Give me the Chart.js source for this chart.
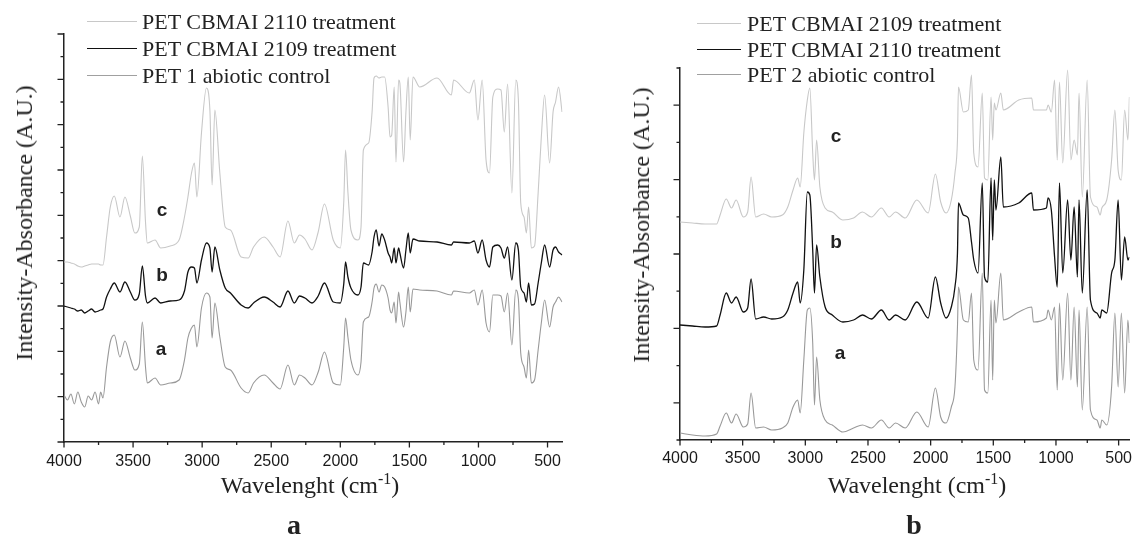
<!DOCTYPE html>
<html>
<head>
<meta charset="utf-8">
<script src="https://cdn.jsdelivr.net/npm/chart.js"></script>
<style>
body { margin: 0; background: #fff; width: 1141px; height: 537px; position: relative; overflow: hidden; color: #222; font-family: "Liberation Serif", "Times New Roman", serif; }
canvas { position: absolute; top: 0; }
.txt { position: absolute; white-space: nowrap; line-height: 1; }
.leg { position: absolute; height: 0; }
.ytitle { font-size: 24px; transform: translate(-50%, -50%) rotate(-90deg); }
.xtitle { font-size: 24px; transform: translateX(-50%); }
.sup { font-size: 16px; position: relative; top: -9px; }
.panel { font-size: 28px; font-weight: bold; transform: translateX(-50%); }
.curve { font-family: "Liberation Sans", Arial, sans-serif; font-size: 19px; font-weight: bold; transform: translate(-50%, -50%); }
.legtxt { font-size: 22px; }
</style>
</head>
<body>
<canvas id="chartA" width="571" height="537" style="left:0"></canvas>
<canvas id="chartB" width="570" height="537" style="left:571px"></canvas>

<!-- panel a texts -->
<div class="leg" style="left:87px;top:21px;width:50px;border-top:1.2px solid #c8c8c8"></div>
<div class="leg" style="left:87px;top:48px;width:50px;border-top:1.5px solid #111"></div>
<div class="leg" style="left:87px;top:75px;width:50px;border-top:1.2px solid #a0a0a0"></div>
<div class="txt legtxt" style="left:142px;top:11px">PET CBMAI 2110 treatment</div>
<div class="txt legtxt" style="left:142px;top:38px">PET CBMAI 2109 treatment</div>
<div class="txt legtxt" style="left:142px;top:65px">PET 1 abiotic control</div>
<div class="txt ytitle" style="left:24px;top:223px">Intensity-Absorbance (A.U.)</div>
<div class="txt xtitle" style="left:310px;top:473px">Wavelenght (cm<span class="sup">-1</span>)</div>
<div class="txt panel" style="left:294px;top:511px">a</div>
<div class="txt curve" style="left:162px;top:209px">c</div>
<div class="txt curve" style="left:162px;top:274px">b</div>
<div class="txt curve" style="left:161px;top:348px">a</div>

<!-- panel b texts -->
<div class="leg" style="left:697px;top:23px;width:44px;border-top:1.2px solid #c8c8c8"></div>
<div class="leg" style="left:697px;top:49px;width:44px;border-top:1.5px solid #111"></div>
<div class="leg" style="left:697px;top:74px;width:44px;border-top:1.2px solid #a0a0a0"></div>
<div class="txt legtxt" style="left:747px;top:13px">PET CBMAI 2109 treatment</div>
<div class="txt legtxt" style="left:747px;top:39px">PET CBMAI 2110 treatment</div>
<div class="txt legtxt" style="left:747px;top:64px">PET 2 abiotic control</div>
<div class="txt ytitle" style="left:641px;top:225px">Intensity-Absorbance (A.U.)</div>
<div class="txt xtitle" style="left:917px;top:473px">Wavelenght (cm<span class="sup">-1</span>)</div>
<div class="txt panel" style="left:914px;top:511px">b</div>
<div class="txt curve" style="left:836px;top:135px">c</div>
<div class="txt curve" style="left:836px;top:241px">b</div>
<div class="txt curve" style="left:840px;top:352px">a</div>

<script>
// x ticks (cm-1)
var xMajor = [4000, 3500, 3000, 2500, 2000, 1500, 1000, 500];
var xMinor = [3750, 3250, 2750, 2250, 1750, 1250, 750];

// panel a: wavenumbers and the three spectra (A.U.)
var waveA = [4000,3975,3950,3925,3900, 3875,3850,3825,3800,3775, 3750,3735,3718,
  3692,3665,3636, 3595,3559,3520,3487,3455,
  3433,3410,3397,3341,3300, 3231,3167,3128,3103,3077, 3056,3038,3005,2969,2944,
  2928,2908,2872,2833,2795, 2718,2667,2628,2551,2487, 2436,2379,2333,2295,2256,
  2205,2160,2115,2051,2000, 1975,1962,1945,1923,1872, 1850,1833,1795,1770,1756,
  1740,1720,1700,1679,1654, 1640,1628,1610,1597,1578, 1569,1542,1525,1508,1494,
  1474,1425,1300,1196,1180, 1066,1030,1004,973,945, 920,896,861,837,813,
  789,758,730,711,694, 670,653,637,617,594, 568,545,521,485,460, 442,420,395];
var t2110A = [180,180,179,178,176, 175,176,177,178,178, 178,177,177,
  205,235,246, 225,245,226,209,215,
  286,220,199,202,194, 196,202,225,245,269, 279,245,309,354,332,
  257,332,269,215,212, 185,184,195,205,195, 185,221,199,207,203,
  192,210,238,202,194, 240,292,250,212,202, 215,292,299,330,364,
  366,364,365,365,335, 305,307,355,280,362, 359,280,330,365,302,
  365,355,364,347,362, 349,362,322,362,282, 269,345,353,352,310,
  358,249,362,342,239, 225,209,235,194,196, 249,305,347,279,330, 340,355,330];
var t2109A = [136,135,134,133,131, 132,129,131,133,130, 131,132,133,
  145,153,159, 150,160,150,142,148,
  176,146,139,144,139, 141,142,151,170,175, 174,159,182,199,194,
  170,195,172,154,149, 137,134,139,145,140, 135,151,139,146,144,
  139,146,159,140,139, 158,180,165,154,147, 155,179,177,190,205,
  212,196,208,202,189, 185,179,194,179,194, 189,174,192,209,189,
  203,201,200,197,200, 199,201,189,202,182, 175,195,197,194,184,
  195,162,199,192,155, 149,140,159,137,138, 159,179,197,175,192, 195,190,187];
var ctrlA = [47,42,48,38,50, 40,35,46,42,50, 38,50,44,
  75,100,107, 85,101,84,72,78,
  120,75,59,64,57, 59,62,82,104,114, 117,95,134,149,145,
  104,139,105,75,72, 54,49,59,67,59, 53,77,57,67,64,
  57,70,90,59,57, 95,124,105,82,67, 80,120,125,140,154,
  158,150,157,155,144, 132,129,140,119,150, 140,115,130,155,130,
  153,152,151,147,151, 149,152,137,152,119, 110,147,147,146,130,
  149,97,152,143,89, 75,64,92,59,62, 92,119,142,115,135, 140,145,140];
var yMajorA = [0, 45.3, 90.7, 136, 181.3, 226.7, 272, 317.3, 362.7, 408];
var yMinorA = [22.7, 68, 113.3, 158.7, 204, 249.3, 294.7, 340, 385.3];

// panel b
var waveB = [4000,3900,3800,3708,3680, 3631,3589,3552,3495,3460, 3433,3396,3333,3268,3183,
  3140,3098,3061,3041,3012, 2984,2964,2941,2927,2910, 2884,2842,2785,2700,2615,
  2544,2473,2393,2331,2280, 2203,2110,2020,1962,1920, 1877,1835,1806,1786,1778,
  1739,1700,1674,1656,1622, 1588,1570,1544,1518,1505, 1492,1479,1440,1420,1297,
  1193,1180,1076,1063,1037, 1011,990,972,946,907, 881,855,829,816,790,
  751,725,673,647,634, 595,556,530,504,478, 452,426,414];
var t2109B = [218,217,216,216,225, 241,232,240,223,228, 263,223,226,223,225,
  233,250,262,253,307, 340,352,287,260,300, 253,232,228,220,222,
  228,223,232,223,228, 222,240,227,266,238, 227,240,267,300,353,
  328,330,365,287,273, 347,262,260,343,300, 337,330,347,330,340,
  342,330,330,335,328, 360,280,358,277,370, 280,300,285,347,243,
  360,243,233,225,232, 240,280,330,270,260, 330,300,343];
var t2110B = [115,114,113,114,125, 147,137,143,128,132, 161,121,123,121,123,
  130,147,158,137,170, 248,245,190,147,195, 163,133,125,118,120,
  125,121,130,120,125, 120,138,122,163,137, 122,133,153,187,237,
  225,222,198,180,167, 257,163,158,262,200, 260,230,283,233,237,
  247,230,232,242,230, 183,153,257,167,240, 180,233,163,240,147,
  250,140,127,122,130, 127,167,180,240,160, 203,180,183];
var ctrlB = [7,5,4,6,14, 27,17,26,13,16, 47,12,13,10,12,
  17,33,40,27,80, 130,132,97,35,83, 40,20,15,8,12,
  15,12,20,12,17, 12,28,13,52,23, 17,33,53,113,153,
  120,118,147,80,70, 167,50,47,140,60, 140,117,167,120,128,
  133,118,122,130,120, 133,50,137,60,147, 60,133,53,130,30,
  133,30,20,12,20, 15,53,127,53,127, 47,120,97];
var yMajorB = [37.2, 111.6, 186, 260.4, 334.8];
var yMinorB = [0, 74.4, 148.8, 223.2, 297.6, 372];

function pts(wave, vals) {
    return wave.map(function (w, i) { return { x: w, y: vals[i] }; });
}

// draws the outward major/minor tick marks on both axes
var axisTicks = {
    id: 'axisTicks',
    afterDraw: function (chart, args, o) {
        var ctx = chart.ctx, xs = chart.scales.x, ys = chart.scales.y, a = chart.chartArea;
        ctx.save();
        ctx.strokeStyle = '#222';
        ctx.lineWidth = 1.3;
        ctx.beginPath();
        xMajor.forEach(function (v) { var p = xs.getPixelForValue(v); ctx.moveTo(p, a.bottom); ctx.lineTo(p, a.bottom + 5.5); });
        xMinor.forEach(function (v) { var p = xs.getPixelForValue(v); ctx.moveTo(p, a.bottom); ctx.lineTo(p, a.bottom + 3); });
        o.yMajor.forEach(function (v) { var p = ys.getPixelForValue(v); ctx.moveTo(a.left, p); ctx.lineTo(a.left - 6.5, p); });
        o.yMinor.forEach(function (v) { var p = ys.getPixelForValue(v); ctx.moveTo(a.left, p); ctx.lineTo(a.left - 3.5, p); });
        ctx.stroke();
        ctx.restore();
    }
};

function makeChart(id, cfg) {
    var ds = function (data, color, width) {
        return { data: data, borderColor: color, borderWidth: width, pointRadius: 0,
                 fill: false, cubicInterpolationMode: 'monotone' };
    };
    return new Chart(document.getElementById(id).getContext('2d'), {
        type: 'line',
        data: {
            datasets: [
                ds(cfg.light, '#c8c8c8', 1.1),
                ds(cfg.gray, '#999999', 1.1),
                ds(cfg.dark, '#111111', 1.3)
            ]
        },
        options: {
            responsive: false,
            animation: false,
            devicePixelRatio: 1,
            layout: { padding: { top: cfg.top, right: cfg.right, left: 0, bottom: 0 } },
            plugins: { legend: { display: false }, tooltip: { enabled: false }, axisTicks: { yMajor: cfg.yMajor, yMinor: cfg.yMinor } },
            scales: {
                x: {
                    type: 'linear', reverse: true, min: cfg.xmin, max: 4000,
                    afterBuildTicks: function (s) { s.ticks = xMajor.map(function (v) { return { value: v }; }); },
                    afterFit: function (s) { s.height = cfg.xh; },
                    grid: { display: false, drawTicks: false },
                    border: { display: true, color: '#222', width: 1.5 },
                    ticks: { padding: cfg.pad, color: '#1a1a1a', maxRotation: 0, autoSkip: false,
                             font: { family: '"Liberation Sans", Arial, sans-serif', size: 16 },
                             callback: function (v) { return String(v); } }
                },
                y: {
                    min: 0, max: cfg.ymax,
                    afterFit: function (s) { s.width = cfg.yw; },
                    grid: { display: false, drawTicks: false },
                    border: { display: true, color: '#222', width: 1.5 },
                    ticks: { display: false }
                }
            }
        },
        plugins: [axisTicks]
    });
}

makeChart('chartA', {
    light: pts(waveA, t2110A), dark: pts(waveA, t2109A), gray: pts(waveA, ctrlA),
    xmin: 392, ymax: 408, top: 34, right: 4, xh: 95, yw: 64, pad: 10,
    yMajor: yMajorA, yMinor: yMinorA
});
makeChart('chartB', {
    light: pts(waveB, t2109B), dark: pts(waveB, t2110B), gray: pts(waveB, ctrlB),
    xmin: 414, ymax: 372, top: 68, right: 1, xh: 97, yw: 109, pad: 9,
    yMajor: yMajorB, yMinor: yMinorB
});
</script>
</body>
</html>
